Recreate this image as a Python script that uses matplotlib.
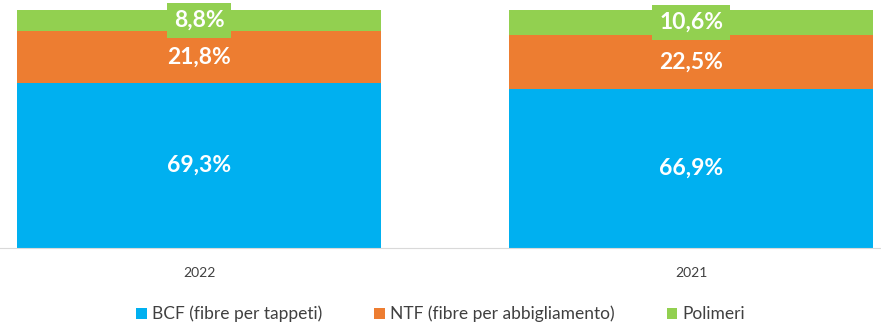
import matplotlib.pyplot as plt
import numpy as np

# Composizione dei ricavi per segmento (%)
anni = ['2022', '2021']
bcf = [69.3, 66.9]
ntf = [21.8, 22.5]
polimeri = [8.8, 10.6]

serie = ['BCF (fibre per tappeti)', 'NTF (fibre per abbigliamento)', 'Polimeri']
colori = ['#00B0F0', '#ED7D31', '#92D050']

plt.rcParams['font.family'] = ['Lato', 'DejaVu Sans']

fig = plt.figure(figsize=(8.81, 3.22), dpi=100)
ax = fig.add_axes([0, 0.23, 1, 0.739])

x = np.arange(len(anni))
width = 0.74
bottom = np.zeros(len(anni))
for valori, nome, col in zip([bcf, ntf, polimeri], serie, colori):
    valori = np.array(valori)
    ax.bar(x, valori, width, bottom=bottom, color=col, label=nome)
    for xi, b, v in zip(x, bottom, valori):
        box = None
        if nome == 'Polimeri':
            box = dict(boxstyle='square,pad=0.3', facecolor=col, edgecolor='none')
        ax.text(xi, b + v / 2, f'{v:.1f}%'.replace('.', ','), ha='center', va='center',
                color='white', fontsize=16.5, fontweight='bold', bbox=box)
    bottom += valori

ax.set_xlim(-0.4045, 1.386)
ax.set_ylim(0, 100)
ax.set_xticks(x)
ax.set_xticklabels(anni, fontsize=10, color='#404040')
ax.tick_params(axis='x', length=0, pad=14)
ax.set_yticks([])
for s in ['top', 'left', 'right']:
    ax.spines[s].set_visible(False)
ax.spines['bottom'].set_color('#D9D9D9')

fig.legend(loc='lower center', bbox_to_anchor=(0.5, -0.05), ncol=3, frameon=False,
           fontsize=12.5, handlelength=0.6, handleheight=0.6, handletextpad=0.3,
           columnspacing=3.0, labelcolor='#404040')

fig.savefig('out.png', dpi=100)
